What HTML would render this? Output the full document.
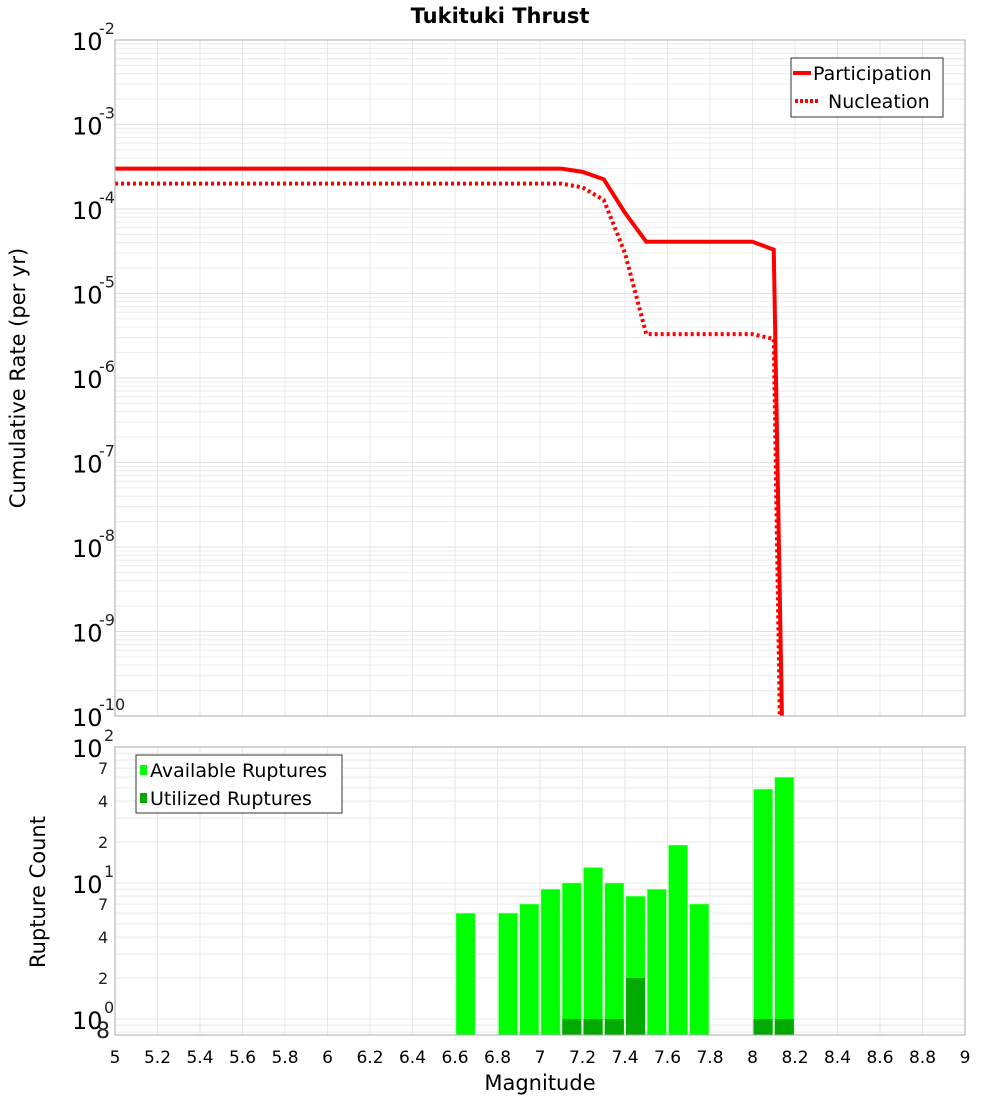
<!DOCTYPE html>
<html><head><meta charset="utf-8"><style>
body{margin:0;background:#fff;font-family:"DejaVu Sans","Liberation Sans",sans-serif;}
svg text{font-family:"DejaVu Sans","Liberation Sans",sans-serif;}
</style></head><body>
<svg id="c" width="1000" height="1100" xmlns="http://www.w3.org/2000/svg">
<defs><clipPath id="cp"><rect x="115" y="40" width="850" height="676"/></clipPath></defs>
<text x="500" y="23" text-anchor="middle" font-size="21" font-weight="bold">Tukituki Thrust</text>
<g id="topg"></g><g id="botg"></g>
<text transform="translate(25,378) rotate(-90)" text-anchor="middle" font-size="21">Cumulative Rate (per yr)</text>
<text transform="translate(45,892) rotate(-90)" text-anchor="middle" font-size="21">Rupture Count</text>
<text x="540" y="1090" text-anchor="middle" font-size="21">Magnitude</text>
</svg>
<script>
const partMags=[5,7.1,7.2,7.3,7.4,7.5,8.0,8.1,8.14];
const partRates=[3.0e-4,3.0e-4,2.75e-4,2.25e-4,9e-5,4.1e-5,4.1e-5,3.3e-5,1e-11];
const nuclMags=[5,7.1,7.2,7.3,7.4,7.5,8.0,8.1,8.13];
const nuclRates=[2.0e-4,2.0e-4,1.8e-4,1.28e-4,3e-5,3.3e-6,3.3e-6,2.9e-6,1e-11];
const binMags=[6.6,6.8,6.9,7.0,7.1,7.2,7.3,7.4,7.5,7.6,7.7,8.0,8.1];
const availCounts=[6,6,7,9,10,13,10,8,9,19,7,49,60];
const utilCounts=[0,0,0,0,1,1,1,2,0,0,0,1,1];
const xTicks=[5,5.2,5.4,5.6,5.8,6,6.2,6.4,6.6,6.8,7,7.2,7.4,7.6,7.8,8,8.2,8.4,8.6,8.8,9];
const NS="http://www.w3.org/2000/svg";
const L=115,R=965,T1=40,B1=716,T2=747,B2=1035;
const X=m=>L+(m-5)/4*(R-L);
const Y1=v=>T1+(-2-Math.log10(v))/8*(B1-T1);
const Y2=v=>T2+(2-Math.log10(v))/(2+0.118)*(B2-T2);
function el(p,t,a){const e=document.createElementNS(NS,t);for(const k in a)e.setAttribute(k,a[k]);p.appendChild(e);return e;}
const gTop=document.getElementById('topg'),gBot=document.getElementById('botg');
for(let d=-10;d<=-2;d++){for(let k=1;k<=9;k++){const v=k*Math.pow(10,d);if(v>0.0100001)break;const y=Y1(v);
const g=el(gTop,'line',{x1:L,x2:R,y1:y,y2:y,stroke:k==1?'#e0e0e0':'#ececec','stroke-width':1});

}}
for(let d=-1;d<=2;d++){for(let k=1;k<=9;k++){const v=k*Math.pow(10,d);if(v>100.01||v<0.76)continue;const y=Y2(v);
const g=el(gBot,'line',{x1:L,x2:R,y1:y,y2:y,stroke:'#e8e8e8','stroke-width':1});

}}
xTicks.forEach(m=>{[[T1,B1,gTop],[T2,B2,gBot]].forEach(([a,b,p])=>{const g=el(p,'line',{x1:X(m),x2:X(m),y1:a,y2:b,stroke:'#e8e8e8'});

});
const t=el(gBot,'text',{x:X(m),y:1063,'text-anchor':'middle','font-size':17});t.textContent=String(m);

});
for(let d=-10;d<=-2;d++){const y=Y1(Math.pow(10,d));const t=el(gTop,'text',{x:72,y:y+10,'font-size':24});t.textContent='10';


const s=el(gTop,'text',{x:99,y:y-6,'font-size':16,fill:'#222'});s.textContent=String(d);

}
function pts(ms,vs){return ms.map((m,i)=>X(m)+','+Math.min(Y1(vs[i]),B1+20)).join(' ');}
const pl=el(gTop,'polyline',{points:pts(partMags,partRates),fill:'none',stroke:'#f00','stroke-width':4,'clip-path':'url(#cp)'});


const nl=el(gTop,'polyline',{points:pts(nuclMags,nuclRates),fill:'none',stroke:'#f00','stroke-width':4,'stroke-dasharray':'3 3','clip-path':'url(#cp)'});


const f1=el(gTop,'rect',{x:L,y:T1,width:R-L,height:B1-T1,fill:'none',stroke:'#aaa'});


const lg=el(gTop,'g',{});


el(lg,'rect',{x:791,y:58,width:152,height:59,fill:'#fff',stroke:'#333'});
el(lg,'line',{x1:793,x2:811,y1:73,y2:73,stroke:'#f00','stroke-width':4});
el(lg,'line',{x1:795,x2:820,y1:101,y2:101,stroke:'#f00','stroke-width':4,'stroke-dasharray':'3 2'});
let t=el(lg,'text',{x:813,y:80,'font-size':19});t.textContent='Participation';
t=el(lg,'text',{x:828,y:108,'font-size':19});t.textContent='Nucleation';
[[100,'2'],[10,'1'],[1,'0']].forEach(([v,e])=>{const y=Y2(v);const a=el(gBot,'text',{x:72,y:y+10,'font-size':24});a.textContent='10';


const s=el(gBot,'text',{x:104,y:y-6,'font-size':16,fill:'#222'});s.textContent=e;

});
[[70,'7'],[40,'4'],[20,'2'],[7,'7'],[4,'4'],[2,'2'],[0.8,'8']].forEach(([v,e])=>{const y=Y2(v);const a=el(gBot,'text',{x:v<1?96:98,y:y+6,'font-size':v<1?22:16,fill:'#222'});a.textContent=e;

});
const bw=(X(5.1)-X(5))*0.9;
binMags.forEach((m,i)=>{const x=X(m)+1;const y=Y2(availCounts[i]);
const b=el(gBot,'rect',{x:x,y:y,width:bw,height:B2-y,fill:'#00ff00',stroke:'#9f9','stroke-width':0.5});


if(utilCounts[i]>0){const yu=Y2(utilCounts[i]);const u=el(gBot,'rect',{x:x,y:yu,width:bw,height:B2-yu,fill:'#00aa00'});

}});
const f2=el(gBot,'rect',{x:L,y:T2,width:R-L,height:B2-T2,fill:'none',stroke:'#aaa'});


const lb=el(gBot,'g',{});


el(lb,'rect',{x:136,y:755,width:206,height:58,fill:'#fff',stroke:'#333'});
el(lb,'rect',{x:140,y:765,width:7,height:10,fill:'#00ff00'});
el(lb,'rect',{x:140,y:793,width:7,height:10,fill:'#00aa00'});
t=el(lb,'text',{x:150,y:777,'font-size':19});t.textContent='Available Ruptures';
t=el(lb,'text',{x:150,y:805,'font-size':19});t.textContent='Utilized Ruptures';
</script>
</body></html>
